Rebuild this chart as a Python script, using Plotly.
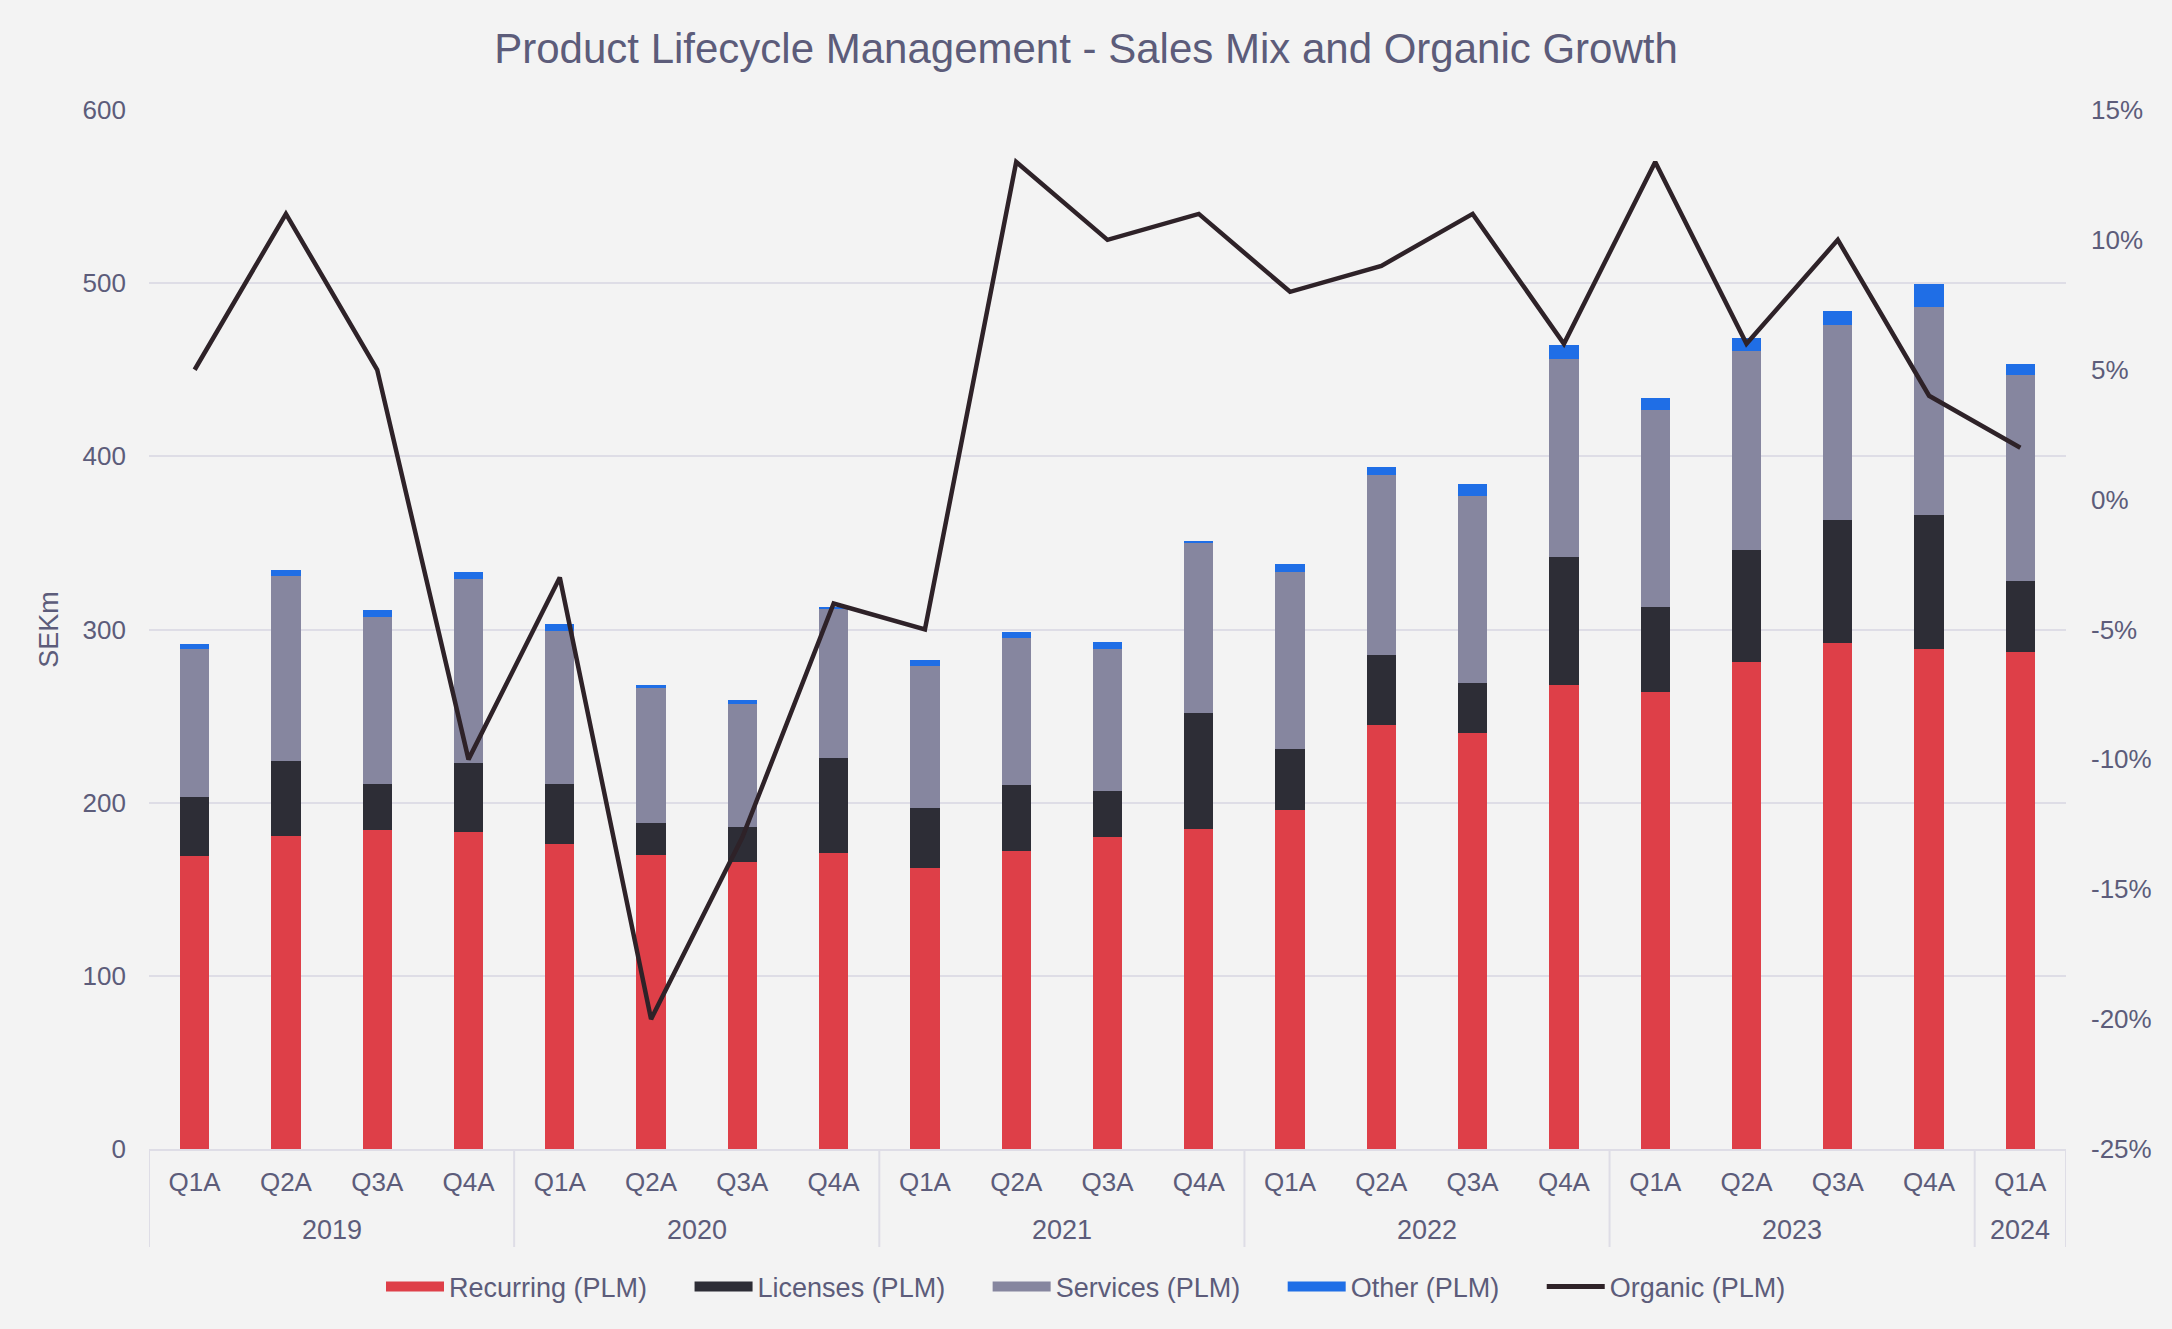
import plotly.graph_objects as go

# ---- data ----
years = ["2019"] * 4 + ["2020"] * 4 + ["2021"] * 4 + ["2022"] * 4 + ["2023"] * 4 + ["2024"]
quarters = ["Q1A", "Q2A", "Q3A", "Q4A"] * 5 + ["Q1A"]

recurring = [169, 181, 184, 183, 176, 170, 166, 171, 162, 172, 180, 185, 196, 245, 240, 268, 264, 281, 292, 289, 287]
licenses = [34, 43, 27, 40, 35, 18, 20, 55, 35, 38, 27, 67, 35, 40, 29, 74, 49, 65, 71, 77, 41]
services = [86, 107, 96, 106, 88, 78, 71, 86, 82, 85, 82, 98, 102, 104, 108, 114, 114, 115, 113, 120, 119]
other = [2.5, 3.5, 4, 4, 4, 2, 2.5, 1, 3.5, 3.5, 3.5, 1, 5, 5, 7, 8.5, 6.5, 7.5, 8, 13.5, 6.5]
organic = [5, 11, 5, -10, -3, -20, -13, -4, -5, 13, 10, 11, 8, 9, 11, 6, 13, 6, 10, 4, 2]

series_names = ["Recurring (PLM)", "Licenses (PLM)", "Services (PLM)", "Other (PLM)"]
line_name = "Organic (PLM)"

left_ticks = [0, 100, 200, 300, 400, 500, 600]
pct_ticks = [-25, -20, -15, -10, -5, 0, 5, 10, 15]
pct_labels = ["-25%", "-20%", "-15%", "-10%", "-5%", "0%", "5%", "10%", "15%"]

# ---- style ----
FONT = "Liberation Sans, Arial, sans-serif"
TXT = "#5c5c7a"
BG = "#f3f3f3"
GRID = "#dedde6"
colors = ["#de3f48", "#2d2d36", "#86869f", "#1f6ee6"]
line_color = "#2e2228"

# plot-area geometry (pixels)
W, H = 2172, 1329
L, R, T, B = 149, 2066, 110, 1149
plot_h = B - T

idx = list(range(len(quarters)))

fig = go.Figure()
for name, vals, col in zip(series_names, [recurring, licenses, services, other], colors):
    fig.add_trace(go.Bar(x=idx, y=vals, name=name, marker=dict(color=col, line=dict(width=0)),
                         showlegend=False))

fig.add_trace(go.Scatter(x=idx, y=organic, name=line_name, mode="lines", yaxis="y2",
                         line=dict(color=line_color, width=4.5), showlegend=False))

# legend entries (wide swatches like the original)
pad = "\u00a0" * 5
for name, col in zip(series_names, colors):
    fig.add_trace(go.Scatter(x=[None], y=[None], name=name + pad, mode="lines",
                             line=dict(color=col, width=16), showlegend=True))
fig.add_trace(go.Scatter(x=[None], y=[None], name=line_name, mode="lines", yaxis="y2",
                         line=dict(color=line_color, width=5), showlegend=True))

# year group labels and dividers, from the years list
groups = []
for i, y in enumerate(years):
    if not groups or groups[-1][0] != y:
        groups.append([y, i, i])
    else:
        groups[-1][2] = i

div_bottom = -(1247 - B) / plot_h
year_y = -(1230 - B) / plot_h
for y, i0, i1 in groups:
    fig.add_annotation(x=(i0 + i1) / 2, y=year_y, xref="x", yref="paper", text=y,
                       showarrow=False, yanchor="middle", font=dict(size=27, color=TXT, family=FONT))
bounds = [g[1] - 0.5 for g in groups] + [groups[-1][2] + 0.5]
for bx in bounds:
    fig.add_shape(type="line", xref="x", yref="paper", x0=bx, x1=bx, y0=0, y1=div_bottom,
                  line=dict(color=GRID, width=2))

fig.update_layout(
    width=W, height=H,
    paper_bgcolor=BG, plot_bgcolor=BG,
    font=dict(family=FONT, color=TXT, size=26),
    barmode="stack", bargap=0.68,
    margin=dict(l=L, r=W - R, t=T, b=H - B, autoexpand=False),
    title=dict(text="Product Lifecycle Management - Sales Mix and Organic Growth",
               x=0.5, xanchor="center", xref="container", y=1 - 48 / H, yanchor="middle",
               font=dict(size=42, color=TXT, family=FONT)),
    xaxis=dict(range=[-0.5, len(idx) - 0.5], tickmode="array", tickvals=idx, ticktext=quarters,
               showgrid=False, zeroline=False, showline=True, linecolor=GRID, linewidth=2,
               ticks="", ticklabelstandoff=9, tickfont=dict(size=26, color=TXT)),
    yaxis=dict(range=[0, 600], tickmode="array", tickvals=left_ticks, showgrid=True,
               gridcolor=GRID, gridwidth=2,
               zeroline=False, showline=False, ticks="", ticklabelstandoff=22,
               title=dict(text="SEKm", font=dict(size=27, color=TXT), standoff=16),
               tickfont=dict(size=26, color=TXT)),
    yaxis2=dict(range=[-25, 15], tickmode="array", tickvals=pct_ticks, ticktext=pct_labels,
                overlaying="y", side="right", showgrid=False,
                zeroline=False, showline=False, ticks="", ticklabelstandoff=24,
                tickfont=dict(size=26, color=TXT)),
    legend=dict(orientation="h", xref="container", x=0.5, xanchor="center",
                yref="container", y=(H - 1287) / H, yanchor="middle",
                font=dict(size=27, color=TXT, family=FONT), bgcolor="rgba(0,0,0,0)",
                itemwidth=58, traceorder="normal"),
)

fig.write_html("out.html", config={"displayModeBar": False},
               post_script="document.body.style.margin='0';document.body.style.overflow='hidden';")
